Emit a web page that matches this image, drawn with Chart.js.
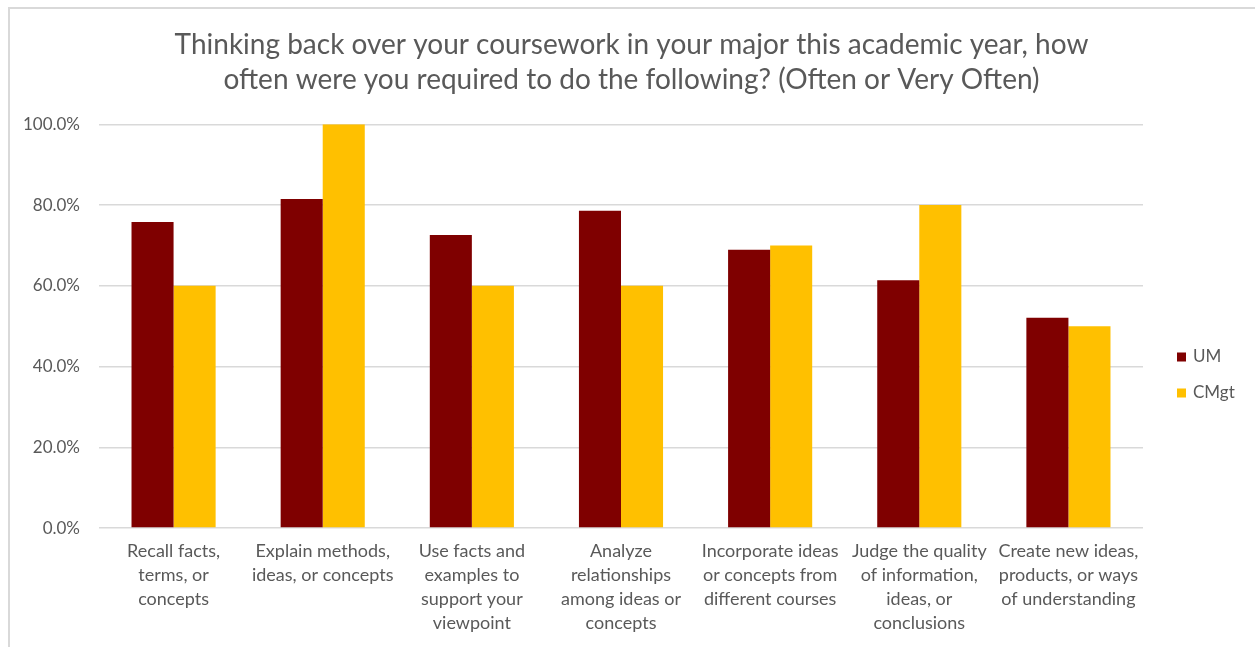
<!DOCTYPE html>
<html>
<head>
<meta charset="utf-8">
<script src="https://cdn.jsdelivr.net/npm/chart.js@4.4.1/dist/chart.umd.min.js"></script>
<style>
  html, body { margin: 0; padding: 0; background: #ffffff; overflow: hidden; }
  #frame {
    position: absolute; left: 8px; top: 7px; width: 1400px; height: 800px;
    border-top: 2px solid #d9d9d9; border-left: 2px solid #d9d9d9;
  }
  #wrap { position: absolute; left: 0; top: 0; width: 1255px; height: 647px; }
</style>
</head>
<body>
<div id="frame"></div>
<div id="wrap"><canvas id="chart" width="1255" height="647"></canvas></div>
<script>
// Survey items (category axis), each split into its wrapped lines
const categories = [
  ['Recall facts,', 'terms, or', 'concepts'],
  ['Explain methods,', 'ideas, or concepts'],
  ['Use facts and', 'examples to', 'support your', 'viewpoint'],
  ['Analyze', 'relationships', 'among ideas or', 'concepts'],
  ['Incorporate ideas', 'or concepts from', 'different courses'],
  ['Judge the quality', 'of information,', 'ideas, or', 'conclusions'],
  ['Create new ideas,', 'products, or ways', 'of understanding']
];

// Share answering "Often" or "Very Often" (%)
const umValues   = [75.8, 81.5, 72.6, 78.6, 68.9, 61.4, 52.1];
const cmgtValues = [60.0, 100.0, 60.0, 60.0, 70.0, 80.0, 50.0];

const seriesNames = ['UM', 'CMgt'];
const yTicks = [0, 20, 40, 60, 80, 100];

const titleLines = [
  'Thinking back over your coursework in your major this academic year, how',
  'often were you required to do the following? (Often or Very Often)'
];

const TEXT = '#595959';
const FONT = 'Lato, "Open Sans", sans-serif';

// Legend drawn beside the plot, one swatch per dataset
const sideLegend = {
  id: 'sideLegend',
  afterDraw(chart, args, opts) {
    const ctx = chart.ctx;
    ctx.save();
    ctx.font = opts.fontSize + 'px ' + FONT;
    ctx.textBaseline = 'middle';
    ctx.textAlign = 'left';
    chart.data.datasets.forEach((ds, i) => {
      const cy = opts.y + i * opts.spacing;
      ctx.fillStyle = ds.backgroundColor;
      ctx.fillRect(opts.x, cy - opts.box / 2, opts.box, opts.box);
      ctx.fillStyle = TEXT;
      ctx.fillText(ds.label, opts.x + opts.box + opts.gap, cy);
    });
    ctx.restore();
  }
};

new Chart(document.getElementById('chart'), {
  type: 'bar',
  data: {
    labels: categories,
    datasets: [
      { label: seriesNames[0], data: umValues,   backgroundColor: '#7f0000' },
      { label: seriesNames[1], data: cmgtValues, backgroundColor: '#ffc000' }
    ]
  },
  plugins: [sideLegend],
  options: {
    responsive: false,
    animation: false,
    events: [],
    layout: { padding: { left: 8, right: 0, top: 0, bottom: 0 } },
    datasets: {
      bar: { categoryPercentage: 0.564, barPercentage: 1.0, borderWidth: 0 }
    },
    plugins: {
      legend: { display: false },
      tooltip: { enabled: false },
      title: {
        display: true,
        text: titleLines,
        color: TEXT,
        font: { family: FONT, size: 28, weight: 'normal', lineHeight: 1.25 },
        padding: { top: 27.5, bottom: 26.8 }
      },
      sideLegend: { x: 1177, y: 357, spacing: 36, box: 9, gap: 7, fontSize: 17 }
    },
    scales: {
      x: {
        grid: { display: false, drawTicks: false },
        border: { display: false },
        ticks: {
          color: TEXT,
          font: { family: FONT, size: 18, lineHeight: 1.333 },
          padding: 11.5,
          maxRotation: 0,
          minRotation: 0,
          autoSkip: false
        }
      },
      y: {
        min: 0,
        max: 100,
        afterFit(scale) { scale.width = 91; },
        afterBuildTicks(scale) { scale.ticks = yTicks.map(v => ({ value: v })); },
        grid: { color: '#d9d9d9', lineWidth: 1.5, drawTicks: false },
        border: { display: false },
        ticks: {
          color: TEXT,
          font: { family: FONT, size: 17 },
          padding: 19,
          callback: v => v.toFixed(1) + '%'
        }
      },
      yRight: {
        position: 'right',
        display: true,
        afterFit(scale) { scale.width = 112; },
        grid: { display: false, drawTicks: false },
        border: { display: false },
        ticks: { display: false }
      }
    }
  }
});
</script>
</body>
</html>
